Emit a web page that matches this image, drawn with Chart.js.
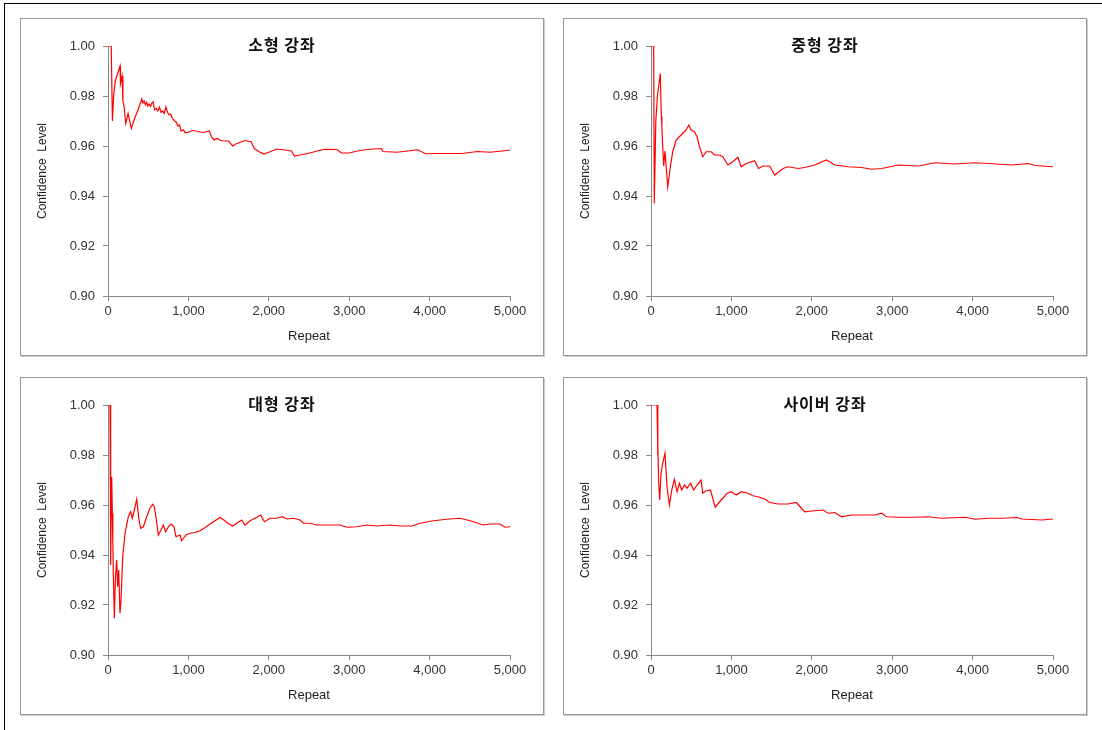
<!DOCTYPE html>
<html>
<head>
<meta charset="utf-8">
<script src="https://cdn.jsdelivr.net/npm/chart.js@4.4.0/dist/chart.umd.min.js"></script>
<style>
  body { margin: 0; background: #fff; width: 1102px; height: 730px; overflow: hidden; position: relative; }
  #frame { position: absolute; left: 4px; top: 3px; width: 1200px; height: 800px; border-left: 1px solid #000; border-top: 1px solid #000; }
  .panel { position: absolute; width: 522px; height: 336px; border: 1px solid #999; box-shadow: 1px 1px 0 #ccc; background: #fff; }
  .panel canvas { position: absolute; left: 0; top: 0; }
  .ttl { position: absolute; left: 0; top: 16px; width: 100%; text-align: center; font: bold 16px "Noto Sans CJK KR", sans-serif; line-height: 18px; letter-spacing: 1px; color: #111; }
</style>
</head>
<body>
<div id="frame"></div>
<div class="panel" style="left:20px;top:18px"><canvas id="c1" width="522" height="336"></canvas><div class="ttl">소형 강좌</div></div>
<div class="panel" style="left:563px;top:18px"><canvas id="c2" width="522" height="336"></canvas><div class="ttl">중형 강좌</div></div>
<div class="panel" style="left:20px;top:377px"><canvas id="c3" width="522" height="336"></canvas><div class="ttl">대형 강좌</div></div>
<div class="panel" style="left:563px;top:377px"><canvas id="c4" width="522" height="336"></canvas><div class="ttl">사이버 강좌</div></div>
<script>
// values (repeat count, confidence level)
var smallRepeat = [0,40,55,70,90,130,150,155,175,185,200,220,235,250,290,330,380,420,435,450,465,480,495,510,530,545,560,580,600,620,640,660,680,700,720,740,760,780,800,830,850,870,890,910,940,960,1000,1050,1100,1150,1200,1260,1290,1320,1360,1400,1450,1500,1550,1600,1650,1700,1780,1820,1880,1940,2000,2100,2200,2280,2320,2400,2500,2600,2700,2850,2900,3000,3100,3200,3300,3400,3420,3600,3800,3850,3950,4100,4300,4400,4600,4750,4900,5000];
var smallConf = [1.000,1.000,0.970,0.980,0.986,0.990,0.992,0.985,0.988,0.978,0.976,0.969,0.971,0.973,0.967,0.971,0.975,0.9788,0.9772,0.978,0.9765,0.9775,0.976,0.9768,0.9758,0.9772,0.9777,0.9745,0.975,0.974,0.9755,0.9735,0.974,0.973,0.9757,0.9735,0.9725,0.9728,0.971,0.970,0.9695,0.968,0.9684,0.966,0.9665,0.9653,0.9655,0.9662,0.966,0.9655,0.9655,0.966,0.9635,0.9624,0.963,0.9622,0.962,0.962,0.960,0.961,0.9615,0.9622,0.9617,0.959,0.9577,0.9568,0.9575,0.9588,0.9584,0.958,0.956,0.9565,0.9571,0.958,0.9587,0.9586,0.9572,0.9572,0.958,0.9585,0.9588,0.959,0.9578,0.9575,0.9583,0.9585,0.9569,0.957,0.957,0.957,0.9578,0.9575,0.958,0.9584];

var mediumRepeat = [0,33,41,60,80,116,128,135,145,158,174,187,208,241,270,312,353,395,436,470,499,540,573,603,644,686,748,790,852,893,956,1018,1080,1122,1184,1288,1338,1392,1475,1538,1642,1704,1829,1912,2036,2182,2223,2286,2452,2618,2743,2868,3075,3325,3533,3782,4031,4198,4488,4696,4780,5000];
var mediumConf = [1.000,1.000,0.937,0.970,0.980,0.989,0.972,0.968,0.960,0.952,0.958,0.9524,0.9437,0.9517,0.9577,0.9624,0.9637,0.9651,0.9664,0.9684,0.9664,0.9657,0.9637,0.9597,0.9557,0.9577,0.9577,0.9564,0.9564,0.9557,0.9524,0.9537,0.9555,0.9517,0.953,0.9541,0.951,0.952,0.952,0.9484,0.951,0.9517,0.951,0.9514,0.9524,0.9544,0.9537,0.9524,0.9517,0.9514,0.9507,0.951,0.9524,0.952,0.9533,0.9528,0.9533,0.953,0.9524,0.953,0.9522,0.9517];

var largeRepeat = [0,25,33,40,46,54,60,66,79,91,108,120,133,149,162,183,212,253,282,303,328,357,386,406,440,481,522,556,576,597,626,659,688,717,751,784,821,846,896,916,970,1020,1082,1145,1207,1269,1331,1393,1455,1489,1551,1601,1663,1704,1767,1829,1899,1945,2015,2098,2173,2223,2306,2389,2430,2513,2596,2720,2886,2969,3094,3218,3343,3508,3633,3778,3882,4047,4213,4379,4504,4670,4752,4877,4939,5000];
var largeConf = [1.000,1.000,0.936,0.960,0.9713,0.9567,0.9447,0.9327,0.9147,0.930,0.938,0.9273,0.934,0.9167,0.922,0.9393,0.9487,0.9553,0.9573,0.9547,0.958,0.9623,0.954,0.9507,0.9513,0.9553,0.9587,0.9603,0.9593,0.955,0.948,0.950,0.952,0.9493,0.9513,0.9524,0.9513,0.9473,0.948,0.9457,0.948,0.9487,0.949,0.9497,0.951,0.9524,0.9537,0.955,0.9537,0.9527,0.9516,0.9527,0.954,0.952,0.9537,0.9547,0.956,0.9533,0.9547,0.9547,0.9553,0.9544,0.9547,0.954,0.9527,0.9527,0.952,0.952,0.952,0.9511,0.9513,0.952,0.9516,0.952,0.9516,0.9516,0.9527,0.9537,0.9543,0.9547,0.9537,0.952,0.9524,0.9524,0.9511,0.9513];

var cyberRepeat = [0,75,83,87,95,108,125,145,174,199,229,258,291,324,353,382,416,449,490,532,573,623,644,686,740,798,873,948,997,1060,1122,1205,1268,1330,1421,1475,1579,1704,1808,1870,1912,1995,2140,2203,2286,2369,2494,2618,2785,2868,2930,3075,3283,3450,3616,3907,4031,4198,4364,4551,4613,4863,5000];
var cyberConf = [1.000,1.000,0.980,0.9847,0.9693,0.962,0.9727,0.9767,0.9807,0.9673,0.960,0.966,0.9703,0.9653,0.9687,0.966,0.968,0.9667,0.9687,0.966,0.968,0.970,0.9647,0.9657,0.966,0.9591,0.962,0.9647,0.9653,0.964,0.9653,0.9647,0.9637,0.9633,0.9623,0.961,0.9604,0.9604,0.961,0.9587,0.9573,0.9576,0.958,0.9567,0.957,0.9553,0.956,0.956,0.956,0.9567,0.9553,0.9551,0.9551,0.9553,0.9547,0.9551,0.9543,0.9547,0.9547,0.955,0.9544,0.954,0.9544];

var xTicks = [0, 1000, 2000, 3000, 4000, 5000];
var yTicks = [0.90, 0.92, 0.94, 0.96, 0.98, 1.00];

Chart.defaults.font.family = '"Liberation Sans", Arial, sans-serif';
Chart.defaults.font.size = 13;
Chart.defaults.color = '#333';

function makeChart(id, xs, ys) {
  var pts = [];
  for (var i in xs) {
    pts.push({x: xs[i], y: ys[i]});
  }
  var axisColor = '#888';
  return new Chart(document.getElementById(id), {
    type: 'line',
    data: {
      datasets: [{
        data: pts,
        borderColor: '#ff0000',
        borderWidth: 1.2,
        pointRadius: 0,
        tension: 0,
        fill: false
      }]
    },
    options: {
      responsive: false,
      animation: false,
      devicePixelRatio: 1,
      layout: { padding: { top: 27, right: 33, left: 0, bottom: 0 } },
      plugins: { legend: { display: false }, tooltip: { enabled: false } },
      scales: {
        x: {
          type: 'linear',
          min: 0, max: 5000,
          afterBuildTicks: function(s) { s.ticks = xTicks.map(function(v){ return {value: v}; }); },
          afterFit: function(s) { s.height = 59; },
          ticks: {
            padding: 3,
            maxRotation: 0,
            callback: function(v) { return v.toLocaleString('en-US'); }
          },
          grid: { drawOnChartArea: false, drawTicks: true, tickLength: 5, color: axisColor },
          border: { color: axisColor, width: 1 },
          title: { display: true, text: 'Repeat', padding: { top: 0, bottom: 11 }, font: { size: 13 }, color: '#222' }
        },
        y: {
          min: 0.9, max: 1.0,
          afterBuildTicks: function(s) { s.ticks = yTicks.map(function(v){ return {value: v}; }); },
          afterFit: function(s) { s.width = 87; },
          ticks: {
            padding: 8,
            callback: function(v) { return v.toFixed(2); }
          },
          grid: { drawOnChartArea: false, drawTicks: true, tickLength: 5, color: axisColor },
          border: { color: axisColor, width: 1 },
          title: { display: true, text: 'Confidence  Level', padding: { top: 14, bottom: 0 }, font: { size: 12 }, color: '#222' }
        }
      }
    }
  });
}

makeChart('c1', smallRepeat, smallConf);
makeChart('c2', mediumRepeat, mediumConf);
makeChart('c3', largeRepeat, largeConf);
makeChart('c4', cyberRepeat, cyberConf);
</script>
</body>
</html>
